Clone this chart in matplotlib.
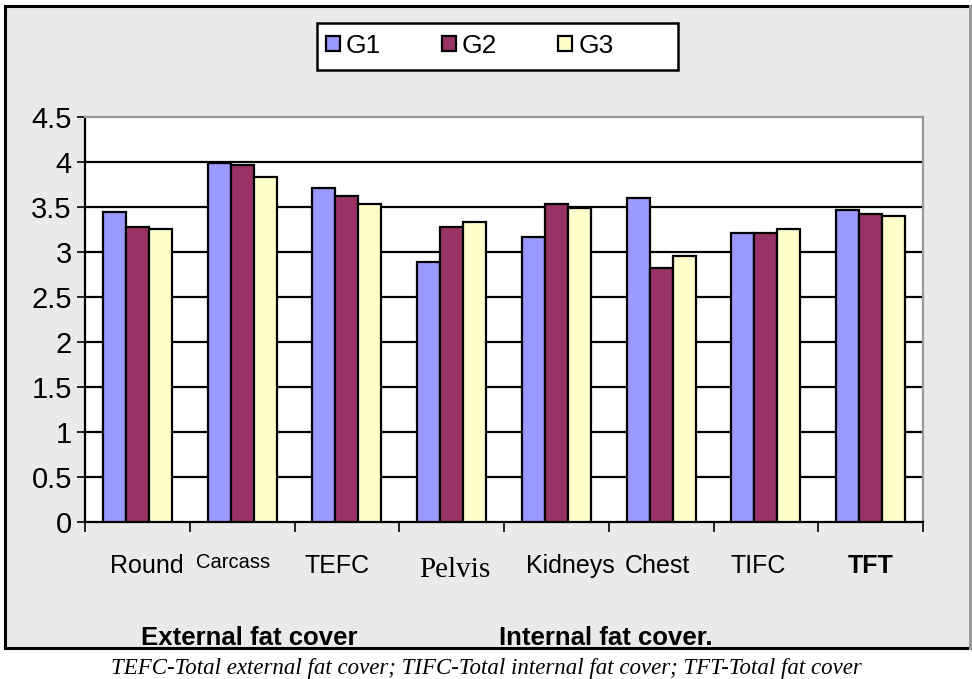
import matplotlib.pyplot as plt
from matplotlib.patches import Rectangle
from matplotlib.lines import Line2D

categories = ["Round", "Carcass", "TEFC", "Pelvis", "Kidneys", "Chest", "TIFC", "TFT"]
groups = ["G1", "G2", "G3"]
g1 = [3.44, 3.99, 3.71, 2.89, 3.17, 3.60, 3.21, 3.47]
g2 = [3.28, 3.97, 3.62, 3.28, 3.53, 2.82, 3.21, 3.42]
g3 = [3.26, 3.83, 3.53, 3.33, 3.49, 2.96, 3.26, 3.40]
y_ticks = [0, 0.5, 1, 1.5, 2, 2.5, 3, 3.5, 4, 4.5]
y_tick_labels = ["0", "0.5", "1", "1.5", "2", "2.5", "3", "3.5", "4", "4.5"]

colors = ["#9999FF", "#993366", "#FFFFCC"]

W, H = 972, 679


def fx(px):
    return px / W


def fy(py):
    return 1 - py / H


fig = plt.figure(figsize=(9.72, 6.79), dpi=100)
fig.patch.set_facecolor("white")

# grey chart frame behind everything
fig.patches.append(Rectangle((fx(5), fy(648)), fx(970) - fx(5), fy(6) - fy(648),
                             transform=fig.transFigure, facecolor="#EAEAEA",
                             edgecolor="none", zorder=-10))
for xs, ys, c in [([5, 970], [6, 6], "black"), ([5, 970], [648, 648], "black"),
                  ([5, 5], [6, 648], "black"), ([970, 970], [6, 648], "#999999")]:
    fig.lines.append(Line2D([fx(v) for v in xs], [fy(v) for v in ys], color=c,
                            linewidth=2.2, transform=fig.transFigure, zorder=-9))

ax = fig.add_axes([fx(85), fy(522), fx(923) - fx(85), fy(117) - fy(522)])
ax.set_facecolor("white")

width = 0.22
x = list(range(len(categories)))
for k, vals in enumerate([g1, g2, g3]):
    ax.bar([i + (k - 1) * width for i in x], vals, width=width, color=colors[k],
           edgecolor="black", linewidth=1.6, label=groups[k], zorder=3)

ax.set_xlim(-0.5, len(categories) - 0.5)
ax.set_ylim(0, 4.5)
ax.set_yticks(y_ticks)
ax.set_yticklabels(y_tick_labels, fontsize=21, family="Liberation Sans")
for yv in y_ticks[1:-1]:
    ax.axhline(yv, color="black", linewidth=1.6, zorder=1)

ax.set_xticks([i + 0.5 for i in range(-1, len(categories))])
ax.set_xticklabels([])
ax.tick_params(axis="x", direction="out", length=7, width=1.2)
ax.tick_params(axis="y", direction="out", length=6, width=1.2, pad=3.5)

for side in ["left", "bottom"]:
    ax.spines[side].set_color("black")
    ax.spines[side].set_linewidth(1.6)
for side in ["top", "right"]:
    ax.spines[side].set_color("#999999")
    ax.spines[side].set_linewidth(1.6)

# category labels, each typed in its own style (baseline in pixels)
label_style = [
    dict(family="Liberation Sans", size=18, base=573, dx=0.087),
    dict(family="Liberation Sans", size=14.5, base=568, dx=-0.082),
    dict(family="Liberation Sans", size=18, base=573, dx=-0.09),
    dict(family="Liberation Serif", size=21, base=577, dx=0.028),
    dict(family="Liberation Sans", size=18, base=573, dx=0.13),
    dict(family="Liberation Sans", size=18, base=573, dx=-0.034),
    dict(family="Liberation Sans", size=18, base=573, dx=-0.07),
    dict(family="Liberation Sans", size=18, base=573, dx=0.004, weight="bold"),
]
tr = ax.get_xaxis_transform()
for i, (name, st) in enumerate(zip(categories, label_style)):
    ax.text(i + st["dx"], (522 - st["base"]) / 405, name, transform=tr,
            ha="center", va="baseline", family=st["family"], fontsize=st["size"],
            fontweight=st.get("weight", "normal"), clip_on=False)

fig.text(fx(249), fy(645), "External fat cover", ha="center", va="baseline",
         family="Liberation Sans", fontsize=18.5, fontweight="bold")
fig.text(fx(606), fy(645), "Internal fat cover.", ha="center", va="baseline",
         family="Liberation Sans", fontsize=18.5, fontweight="bold")

fig.text(fx(486), fy(674),
         "TEFC-Total external fat cover; TIFC-Total internal fat cover; TFT-Total fat cover",
         ha="center", va="baseline", family="Liberation Serif", style="italic",
         fontsize=16.5)

# legend box with entries
fig.patches.append(Rectangle((fx(317), fy(70)), fx(678) - fx(317), fy(23) - fy(70),
                             transform=fig.transFigure, facecolor="white",
                             edgecolor="black", linewidth=1.8, zorder=5))
leg = fig.legend(loc="center left", bbox_to_anchor=(fx(326), fy(46)), ncol=3,
                 frameon=False, prop={"family": "Liberation Sans", "size": 19},
                 handlelength=0.53, handleheight=0.53, handletextpad=0.23,
                 columnspacing=2.3, borderpad=0, borderaxespad=0)
leg.set_zorder(6)

fig.savefig("out.png", dpi=100)
